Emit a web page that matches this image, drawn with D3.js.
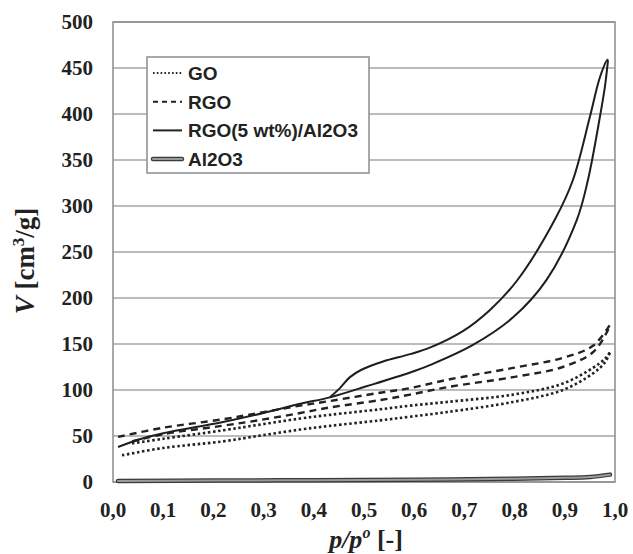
<!DOCTYPE html>
<html>
<head>
<meta charset="utf-8">
<script src="https://cdn.jsdelivr.net/npm/d3@7"></script>
<style>
  body { margin: 0; background: #fff; }
  .tick-lbl { font-family: "Liberation Serif", "Times New Roman", serif; font-weight: bold; font-size: 21px; fill: #222; }
  .legend text { font-family: "Liberation Sans", Arial, sans-serif; font-weight: bold; font-size: 19px; fill: #222; }
</style>
</head>
<body>
<div id="chart"></div>
<script>
// isotherm branches, [p/p0, V]
var goAds = [[0.018, 29], [0.1, 37], [0.217, 44], [0.3, 51], [0.373, 57], [0.432, 61], [0.532, 67], [0.592, 71], [0.665, 76], [0.797, 87], [0.896, 100], [0.956, 118], [0.98, 130], [0.99, 141]];
var goDes = [[0.038, 42], [0.1, 47], [0.217, 56], [0.3, 63], [0.373, 69], [0.432, 73], [0.532, 79], [0.592, 83], [0.665, 87], [0.797, 95], [0.896, 107], [0.956, 124], [0.98, 134], [0.99, 141]];
var rgoAds = [[0.038, 44], [0.1, 52], [0.217, 61], [0.3, 68], [0.373, 75], [0.432, 81], [0.532, 89], [0.592, 95], [0.665, 103], [0.797, 114], [0.896, 125], [0.956, 141], [0.984, 163], [0.99, 171]];
var rgoDes = [[0.01, 49], [0.1, 59], [0.217, 68], [0.3, 76], [0.373, 83], [0.432, 88], [0.532, 97], [0.592, 102], [0.665, 111], [0.797, 124], [0.896, 135], [0.956, 148], [0.99, 171]];
var compAds = [[0.01, 38], [0.05, 46], [0.1, 53], [0.217, 65], [0.3, 75], [0.373, 85], [0.432, 92], [0.505, 104], [0.592, 119], [0.631, 127], [0.717, 149], [0.797, 179], [0.864, 220], [0.924, 285], [0.946, 328], [0.97, 397], [0.98, 430], [0.986, 458]];
var compDes = [[0.432, 92], [0.452, 102], [0.472, 114], [0.495, 122], [0.538, 131], [0.592, 139], [0.631, 146], [0.697, 164], [0.751, 187], [0.805, 219], [0.88, 285], [0.916, 328], [0.95, 397], [0.97, 440], [0.985, 459], [0.986, 458]];
var alAds = [[0.01, 1], [0.2, 1.5], [0.4, 2], [0.6, 2.5], [0.8, 3.5], [0.9, 4.5], [0.95, 5.5], [0.99, 8]];

var legendNames = ["GO", "RGO", "RGO(5 wt%)/Al2O3", "Al2O3"];
var xTicks = [0, 0.1, 0.2, 0.3, 0.4, 0.5, 0.6, 0.7, 0.8, 0.9, 1.0];
var yTicks = [0, 50, 100, 150, 200, 250, 300, 350, 400, 450, 500];

var width = 633, height = 554;
var x = d3.scaleLinear().domain([0, 1]).range([113, 615]);
var y = d3.scaleLinear().domain([0, 500]).range([482, 22]);

var svg = d3.select("#chart").append("svg")
    .attr("width", width)
    .attr("height", height);

// grid
svg.append("g").selectAll("line")
  .data(yTicks)
  .enter().append("line")
    .attr("x1", x(0)).attr("x2", x(1))
    .attr("y1", function(d) { return y(d); })
    .attr("y2", function(d) { return y(d); })
    .attr("stroke", "#a6a6a6")
    .attr("stroke-width", 1.5);

svg.append("rect")
    .attr("x", x(0)).attr("y", y(500))
    .attr("width", x(1) - x(0)).attr("height", y(0) - y(500))
    .attr("fill", "none")
    .attr("stroke", "#8c8c8c")
    .attr("stroke-width", 1.5);

// tick labels
svg.append("g").selectAll("text")
  .data(yTicks)
  .enter().append("text")
    .attr("class", "tick-lbl")
    .attr("x", 93)
    .attr("y", function(d) { return y(d); })
    .attr("dy", "0.35em")
    .attr("text-anchor", "end")
    .text(function(d) { return d; });

svg.append("g").selectAll("text")
  .data(xTicks)
  .enter().append("text")
    .attr("class", "tick-lbl")
    .attr("x", function(d) { return x(d); })
    .attr("y", 517)
    .attr("text-anchor", "middle")
    .text(function(d) { return d3.format(".1f")(d).replace(".", ","); });

// axis titles
var xt = svg.append("text")
    .attr("x", 366).attr("y", 548)
    .attr("text-anchor", "middle")
    .style("font-family", "Liberation Serif, serif")
    .style("font-weight", "bold")
    .style("font-size", "26px")
    .attr("fill", "#222");
xt.append("tspan").style("font-style", "italic").text("p/p");
xt.append("tspan").style("font-style", "italic").style("font-size", "16px").attr("dy", -10).text("o");
xt.append("tspan").attr("dy", 10).text(" [-]");

var yt = svg.append("text")
    .attr("transform", "translate(34,261)rotate(-90)")
    .attr("text-anchor", "middle")
    .style("font-family", "Liberation Serif, serif")
    .style("font-weight", "bold")
    .style("font-size", "27px")
    .attr("fill", "#222");
yt.append("tspan").style("font-style", "italic").text("V");
yt.append("tspan").text(" [cm");
yt.append("tspan").style("font-size", "17px").attr("dy", -10).text("3");
yt.append("tspan").attr("dy", 10).text("/g]");

// curves
var line = d3.line()
    .curve(d3.curveCatmullRom.alpha(0.5))
    .x(function(d) { return x(d[0]); })
    .y(function(d) { return y(d[1]); });

var plot = svg.append("g").attr("fill", "none");

function drawAl(g, d) {
  g.append("path").attr("d", d).attr("stroke", "#3a3a3a").attr("stroke-width", 4.5).attr("stroke-linecap", "round");
  g.append("path").attr("d", d).attr("stroke", "#9a9a9a").attr("stroke-width", 2).attr("stroke-linecap", "round");
}
drawAl(plot, line(alAds));

[goAds, goDes].forEach(function(s) {
  plot.append("path").attr("d", line(s))
    .attr("stroke", "#222").attr("stroke-width", 2.6)
    .attr("stroke-dasharray", "2.5,2.6");
});
[rgoAds, rgoDes].forEach(function(s) {
  plot.append("path").attr("d", line(s))
    .attr("stroke", "#222").attr("stroke-width", 2.4)
    .attr("stroke-dasharray", "7,5");
});
[compAds, compDes].forEach(function(s) {
  plot.append("path").attr("d", line(s))
    .attr("stroke", "#1e1e1e").attr("stroke-width", 2);
});

// legend
var lg = svg.append("g").attr("class", "legend");
lg.append("rect")
    .attr("x", 147).attr("y", 57)
    .attr("width", 222).attr("height", 116)
    .attr("fill", "#fff")
    .attr("stroke", "#8c8c8c")
    .attr("stroke-width", 1.5);

var rows = lg.selectAll("g.row")
  .data(legendNames)
  .enter().append("g")
    .attr("class", "row")
    .attr("transform", function(d, i) { return "translate(0," + (73 + i * 28.7) + ")"; });

rows.each(function(d, i) {
  var r = d3.select(this);
  var seg = "M153,0L182,0";
  if (i === 3) {
    drawAl(r, seg);
  } else {
    var p = r.append("path").attr("d", seg).attr("fill", "none").attr("stroke", "#222");
    if (i === 0) p.attr("stroke-width", 2).attr("stroke-dasharray", "1.6,2.2");
    if (i === 1) p.attr("stroke-width", 2).attr("stroke-dasharray", "5,4");
    if (i === 2) p.attr("stroke-width", 2);
  }
  r.append("text").attr("x", 188).attr("dy", "0.36em").text(d);
});
</script>
</body>
</html>
